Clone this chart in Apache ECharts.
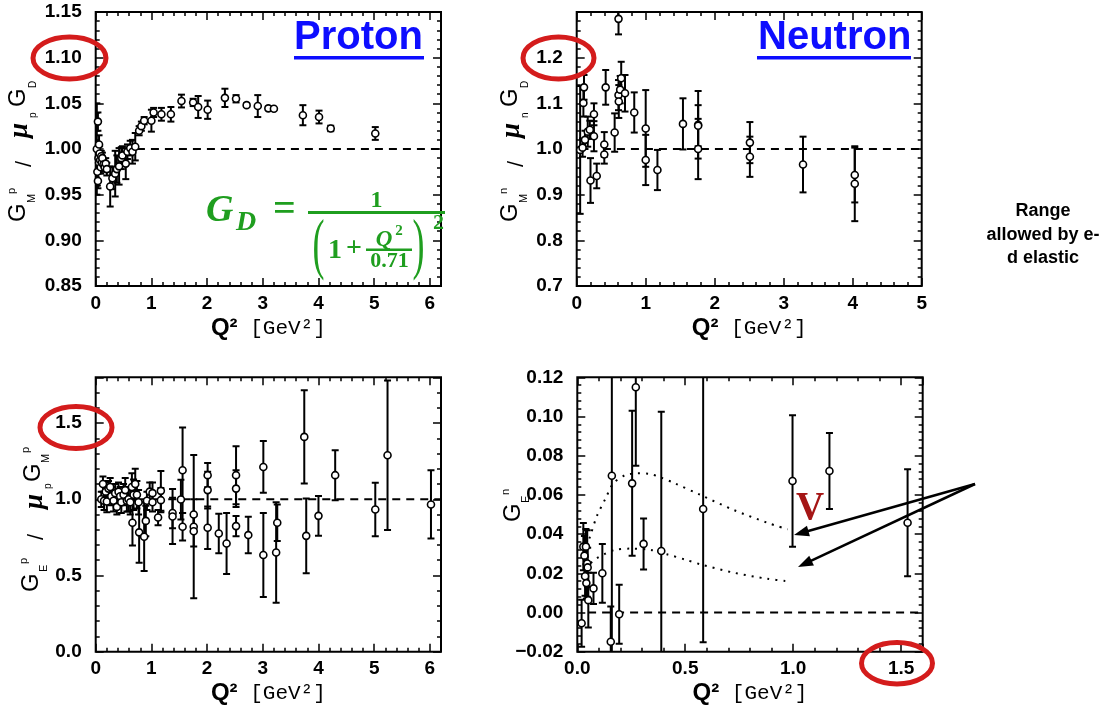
<!DOCTYPE html>
<html><head><meta charset="utf-8">
<script src="https://cdn.jsdelivr.net/npm/echarts/dist/echarts.min.js"></script>
<style>html,body{margin:0;padding:0;background:#fff}#c{width:1108px;height:708px}</style>
</head><body><div id="c"></div>
<script>
// ---------- DATA ----------
// Panel 1: G_M^p / mu_p G_D
const gmpX = [0.02,0.03,0.04,0.04,0.05,0.06,0.06,0.07,0.08,0.09,0.10,0.11,0.12,0.14,0.16,0.18,0.20,
  0.26,0.30,0.35,0.38,0.42,0.46,0.48,0.54,0.57,0.62,0.66,0.71,0.78,0.82,0.87,1.00,1.04,1.18,1.35,1.54,
  1.75,1.84,2.01,2.32,2.52,2.71,2.91,3.10,3.20,3.72,4.01,4.22,5.02];
const gmpY = [1.000,0.975,1.030,0.965,0.990,0.985,1.005,0.995,0.988,0.980,0.992,0.985,0.990,0.983,0.980,0.984,0.978,
  0.959,0.968,0.973,0.978,0.981,0.990,0.993,0.984,0.997,1.001,0.997,1.0025,1.020,1.025,1.031,1.031,1.040,1.038,1.038,1.0525,
  1.051,1.046,1.043,1.056,1.055,1.048,1.047,1.0445,1.044,1.037,1.035,1.0225,1.017];
const gmpErr = [0.05,0.015,0.01,0.008,0.012,0.01,0.01,0.008,0.006,0.007,0.006,0.005,0.006,0.006,0.005,0.006,0.007,
  0.022,0.012,0.025,0.015,0.02,0.012,0.01,0.017,0.008,0.008,0.013,0.015,0.005,0.005,0.004,0.012,0.005,0.007,0.008,0.007,
  0.004,0.012,0.01,0.01,0.004,0.002,0.012,0.002,0,0.011,0.007,0.003,0.007];
// Panel 2: G_M^n / mu_n G_D
const gmnX = [0.05,0.085,0.097,0.106,0.12,0.16,0.19,0.20,0.25,0.25,0.29,0.40,0.40,0.42,0.55,0.606,0.606,0.61,0.63,0.645,
  0.70,0.834,1.0,1.0,1.17,1.54,1.76,1.76,1.76,2.51,2.51,3.28,4.03,4.03];
const gmnY = [0.998,1.003,1.101,1.135,1.02,1.038,1.042,0.931,1.076,1.028,0.941,1.010,0.988,1.135,1.036,1.285,1.118,1.104,1.13,1.155,
  1.122,1.080,1.045,0.976,0.954,1.055,1.053,1.051,1.0,1.014,0.983,0.966,0.943,0.924];
const gmnErr = [0.14,0.02,0.03,0.027,0.02,0.033,0.02,0.049,0.024,0.033,0.027,0.027,0.02,0.038,0.042,0.034,0.033,0.036,0.03,0.036,
  0.04,0.044,0.084,0.055,0.044,0.056,0.074,0.045,0.066,0.045,0.044,0.061,0.06,0.082];
// Panel 3: G_E^p / mu_p G_M^p
const gepX = [0.10,0.13,0.15,0.18,0.20,0.23,0.26,0.28,0.32,0.35,0.38,0.41,0.44,0.46,0.50,0.53,0.56,0.59,0.62,0.65,
  0.68,0.71,0.74,0.77,0.66,0.78,0.87,0.90,0.92,0.97,1.02,1.02,1.12,1.17,1.17,1.38,1.38,1.53,1.56,1.56,
  1.76,1.76,1.76,2.01,2.01,2.01,2.21,2.35,2.52,2.52,2.52,2.74,3.01,3.01,3.24,3.26,3.745,3.78,4.0,4.3,5.02,5.24,6.02];
const gepY = [1.00,1.10,0.99,1.05,0.985,1.07,1.08,1.02,0.99,1.04,0.95,1.05,1.02,0.98,1.03,1.06,0.99,1.00,0.98,1.08,
  1.03,1.10,1.03,0.98,0.846,0.783,0.754,0.858,0.99,1.05,1.04,0.98,0.88,1.055,0.994,0.91,0.887,0.998,1.19,0.82,
  0.90,0.82,0.79,1.158,1.06,0.813,0.775,0.71,1.158,1.07,0.824,0.765,1.212,0.634,0.651,0.846,1.409,0.76,0.891,1.158,0.933,1.289,0.966];
const gepErr = [0.05,0.05,0.06,0.06,0.07,0.05,0.06,0.06,0.07,0.06,0.05,0.06,0.06,0.07,0.07,0.08,0.07,0.08,0.08,0.09,
  0.10,0.10,0.09,0.08,0.15,0.20,0.225,0.10,0.06,0.06,0.07,0.06,0.05,0.13,0.08,0.10,0.18,0.13,0.28,0.09,
  0.10,0.47,0.10,0.08,0.12,0.14,0.13,0.20,0.19,0.12,0.066,0.12,0.17,0.276,0.33,0.12,0.306,0.245,0.13,0.164,0.175,0.49,0.224];
// Panel 4: G_E^n
const genX = [0.02,0.028,0.033,0.036,0.04,0.042,0.046,0.048,0.051,0.075,0.116,0.155,0.16,0.194,0.254,0.271,0.307,0.389,0.583,0.997,1.168,1.53];
const genY = [-0.0055,0.0336,0.029,0.0185,0.0336,0.015,0.025,0.023,0.0063,0.0123,0.02,-0.0149,0.0698,-0.0009,0.0659,0.1149,0.035,0.0314,0.0528,0.0671,0.0722,0.0458];
const genErr = [0.012,0.012,0.01,0.01,0.009,0.008,0.017,0.01,0.014,0.008,0.015,0.018,0.09,0.015,0.037,0.04,0.013,0.071,0.068,0.0336,0.0194,0.0273];
const genUpX = [0.03,0.059,0.09,0.13,0.168,0.22,0.276,0.33,0.384,0.45,0.57,0.725,0.88,0.974];
const genUpY = [0.030,0.0387,0.049,0.058,0.066,0.070,0.071,0.0708,0.069,0.066,0.060,0.0523,0.0458,0.0424];
const genLoX = [0.04,0.06,0.09,0.13,0.175,0.245,0.338,0.415,0.5,0.57,0.725,0.88,0.974];
const genLoY = [0.022,0.025,0.0277,0.030,0.032,0.0326,0.032,0.0297,0.027,0.0246,0.0203,0.0172,0.016];
// dashed reference lines [xStart, xEnd] at given level
const refGmpX = [0.74, 6.2], refGmpY = 1;
const refGmnX = [0.38, 5], refGmnY = 1;
const refGepX = [0.8, 6.2], refGepY = 1;
const refGenX = [0.05, 1.6], refGenY = 0;

// ---------- HELPERS ----------
const SANS = "'Liberation Sans', Arial, Helvetica, sans-serif";
const SERIF = "'Liberation Serif', 'DejaVu Serif', 'Times New Roman', serif";
const MONO = "'Liberation Mono', 'DejaVu Sans Mono', monospace";
const xAxis = [], yAxis = [], series = [], grids = [];

function isMult(v, step){ const r = v/step; return Math.abs(r - Math.round(r)) < 1e-6; }
function baseAxis(gi, pos, min, max, interval, len, label, extra){
  return Object.assign({
    type:'value', gridIndex:gi, position:pos, min:min, max:max, interval:interval,
    axisLine:{show:false, onZero:false},
    axisTick:{show:true, inside:true, length:len, lineStyle:{color:'#000', width:1.5}},
    axisLabel: label || {show:false},
    splitLine:{show:false}, minorTick:{show:false}, minorSplitLine:{show:false},
    silent:true
  }, extra || {});
}
function panel(gi, box, xs, ys){
  grids.push({left:box[0], top:box[1], width:box[2], height:box[3], show:true, borderColor:'#000', borderWidth:2,
    backgroundColor:'transparent', containLabel:false, outerBoundsMode:'none'});
  const xi = xAxis.length, yi = yAxis.length;
  xAxis.push(baseAxis(gi,'bottom',xs.min,xs.max,xs.major,8,{
    show:true, color:'#000', fontSize:19, fontFamily:SANS, fontWeight:'bold', margin:8,
    formatter:(v)=> (isMult(v,xs.major) && v <= xs.labelMax + 1e-9) ? xs.fmt(v) : ''
  },{
    name:'{q|Q²}{m| [GeV²]}', nameLocation:'middle', nameGap:28,
    nameTextStyle:{color:'#000', rich:{
      q:{fontFamily:SANS, fontWeight:'bold', fontSize:24, color:'#000', lineHeight:28},
      m:{fontFamily:MONO, fontSize:21, color:'#000', lineHeight:28}}}
  }));
  xAxis.push(baseAxis(gi,'bottom',xs.min,xs.max,xs.minor,4,null));
  xAxis.push(baseAxis(gi,'top',xs.min,xs.max,xs.major,8,null));
  xAxis.push(baseAxis(gi,'top',xs.min,xs.max,xs.minor,4,null));
  yAxis.push(baseAxis(gi,'left',ys.min,ys.max,ys.major,8,{
    show:true, color:'#000', fontSize:19, fontFamily:SANS, fontWeight:'bold', margin:14,
    formatter:(v)=> (isMult(v,ys.major) && v <= ys.labelMax + 1e-9) ? ys.fmt(v) : ''
  }));
  yAxis.push(baseAxis(gi,'left',ys.min,ys.max,ys.minor,4,null));
  yAxis.push(baseAxis(gi,'right',ys.min,ys.max,ys.major,8,null));
  yAxis.push(baseAxis(gi,'right',ys.min,ys.max,ys.minor,4,null));
  return {xi:xi, yi:yi};
}
function addData(ax, X, Y, E, refX, refY){
  series.push({
    type:'custom', xAxisIndex:ax.xi, yAxisIndex:ax.yi, clip:true, silent:true, z:3,
    data: X.map((x,i)=>[x, Y[i], E[i]]),
    encode:{x:0, y:1},
    renderItem:function(params, api){
      const x = api.value(0), y = api.value(1), e = api.value(2);
      const hi = api.coord([x, y + e]), lo = api.coord([x, y - e]);
      const cx = hi[0], cw = 3.5;
      const st = {stroke:'#000', lineWidth:2};
      const ch = [{type:'line', shape:{x1:cx, y1:hi[1], x2:cx, y2:lo[1]}, style:st}];
      if (e > 0) {
        ch.push({type:'line', shape:{x1:cx-cw, y1:hi[1], x2:cx+cw, y2:hi[1]}, style:st});
        ch.push({type:'line', shape:{x1:cx-cw, y1:lo[1], x2:cx+cw, y2:lo[1]}, style:st});
      }
      return {type:'group', children:ch};
    }
  });
  series.push({
    type:'scatter', xAxisIndex:ax.xi, yAxisIndex:ax.yi, silent:true, z:4,
    symbol:'circle', symbolSize:7,
    itemStyle:{color:'#fff', borderColor:'#000', borderWidth:1.6, opacity:1},
    data: X.map((x,i)=>[x, Y[i]])
  });
  series.push({
    type:'line', xAxisIndex:ax.xi, yAxisIndex:ax.yi, silent:true, z:2, showSymbol:false, symbol:'none',
    lineStyle:{color:'#000', width:1.8, type:[8,6]},
    data: refX.map(x=>[x, refY])
  });
}
const f0 = v => String(Math.round(v));
const f1 = v => v.toFixed(1);
const f2 = v => (v < 0 ? '\u2212' + Math.abs(v).toFixed(2) : v.toFixed(2));

const a1 = panel(0, [95.7, 12, 345.3, 274], {min:0,max:6.2,major:1,minor:0.2,labelMax:6,fmt:f0},
                                             {min:0.85,max:1.15,major:0.05,minor:0.01,labelMax:1.15,fmt:f2});
const a2 = panel(1, [576.7, 12, 345, 274], {min:0,max:5,major:1,minor:0.2,labelMax:5,fmt:f0},
                                             {min:0.7,max:1.3,major:0.1,minor:0.02,labelMax:1.2,fmt:f1});
const a3 = panel(2, [95.7, 377.3, 345.3, 274.4], {min:0,max:6.2,major:1,minor:0.2,labelMax:6,fmt:f0},
                                             {min:0,max:1.8,major:0.5,minor:0.1,labelMax:1.5,fmt:f1});
const a4 = panel(3, [577.3, 377.3, 345.4, 274.4], {min:0,max:1.6,major:0.5,minor:0.1,labelMax:1.5,fmt:f1},
                                             {min:-0.02,max:0.12,major:0.02,minor:0.004,labelMax:0.12,fmt:f2});
addData(a1, gmpX, gmpY, gmpErr, refGmpX, refGmpY);
addData(a2, gmnX, gmnY, gmnErr, refGmnX, refGmnY);
addData(a3, gepX, gepY, gepErr, refGepX, refGepY);
addData(a4, genX, genY, genErr, refGenX, refGenY);
[[genUpX, genUpY],[genLoX, genLoY]].forEach(function(c){
  series.push({type:'line', xAxisIndex:a4.xi, yAxisIndex:a4.yi, silent:true, z:2, showSymbol:false, symbol:'none',
    smooth:0.3, lineStyle:{color:'#000', width:2, type:[2,6]},
    data:c[0].map((x,i)=>[x, c[1][i]])});
});

// ---------- GRAPHIC TEXT / ANNOTATIONS ----------
function yTitle(x0, y0, items){
  return {type:'group', x:x0, y:y0, rotation:Math.PI/2, silent:true, children: items.map(function(it){
    return {type:'text', x:it[1], y:it[2] - 0.35*it[3], style:{text:it[0], fontSize:it[3], fontFamily:it[4]||SANS,
      fontStyle:it[5]||'normal', fontWeight:it[6]||'normal', fill:'#000', textAlign:'left',
      textVerticalAlign:'middle', verticalAlign:'middle'}};
  })};
}
function txt(t, x, y, size, fam, style, weight, fill, align, sy){
  const o = {type:'text', x:x, y:y, silent:true, z:50, style:{text:t, fontSize:size, fontFamily:fam, fontStyle:style||'normal',
    fontWeight:weight||'normal', fill:fill||'#000', textAlign:align||'center', textVerticalAlign:'middle', verticalAlign:'middle'}};
  if (sy) { o.scaleY = sy; }
  return o;
}
function arrow(x1, y1, x2, y2){
  const dx = x2-x1, dy = y2-y1, L = Math.sqrt(dx*dx+dy*dy), ux = dx/L, uy = dy/L;
  const hl = 15, hw = 5.5, bx = x2 - ux*hl, by = y2 - uy*hl;
  return [
    {type:'line', silent:true, z:50, shape:{x1:x1, y1:y1, x2:bx+ux*2, y2:by+uy*2}, style:{stroke:'#000', lineWidth:2.5}},
    {type:'polygon', silent:true, z:50, shape:{points:[[x2,y2],[bx - uy*hw, by + ux*hw],[bx + uy*hw, by - ux*hw]]}, style:{fill:'#000'}}
  ];
}
function ellipse(cx, cy, rx, ry){
  return {type:'ellipse', silent:true, z:60, shape:{cx:cx, cy:cy, rx:rx, ry:ry}, style:{fill:null, stroke:'#d41c1c', lineWidth:5}};
}
const GREEN = '#1f9e1f', BLUE = '#0d0dff';
const graphic = [
  // y-axis titles
  yTitle(27, 222, [['G',0,0,24],['M',19,9,11],['p',28,-11,11],['/',55,6,22],['\u03bc',84,2,27,SERIF,'italic','bold'],
                   ['p',104,10,10],['G',115,0,24],['D',134,10,10]]),
  yTitle(519, 222, [['G',0,0,24],['M',19,9,11],['n',28,-11,11],['/',55,6,22],['\u03bc',84,2,27,SERIF,'italic','bold'],
                   ['n',104,10,10],['G',115,0,24],['D',134,10,10]]),
  yTitle(40, 592, [['G',0,0,24],['E',20,8,11],['p',28,-12,11],['/',52,5,22],['\u03bc',83,4,27,SERIF,'italic','bold'],
                   ['p',103,12,10],['G',110,2,24],['M',129,10,11],['p',139,-10,11]]),
  yTitle(522, 522, [['G',0,0,24],['E',19,8,11],['n',27,-12,11]]),
  // titles
  txt('Proton', 294, 37.5, 40, SANS, 'normal', 'bold', BLUE, 'left'),
  {type:'rect', silent:true, z:50, shape:{x:294, y:56, width:130, height:3.5}, style:{fill:BLUE}},
  txt('Neutron', 758, 37.5, 40, SANS, 'normal', 'bold', BLUE, 'left'),
  {type:'rect', silent:true, z:50, shape:{x:757, y:56, width:154, height:3.5}, style:{fill:BLUE}},
  // dipole formula
  txt('G', 206, 211, 38, SERIF, 'italic', 'bold', GREEN, 'left'),
  txt('D', 236, 223, 28, SERIF, 'italic', 'bold', GREEN, 'left'),
  txt('=', 284.5, 210.5, 40, SERIF, 'normal', 'bold', GREEN, 'center'),
  {type:'rect', silent:true, z:50, shape:{x:308, y:211, width:137, height:3}, style:{fill:GREEN}},
  txt('1', 376.5, 200.5, 24, SERIF, 'normal', 'bold', GREEN, 'center'),
  txt('(', 318.5, 248, 36, SERIF, 'normal', 'normal', GREEN, 'center', 1.9),
  txt('1', 335, 251, 28, SERIF, 'normal', 'bold', GREEN, 'center'),
  txt('+', 354, 249, 28, SERIF, 'normal', 'bold', GREEN, 'center'),
  txt('Q', 384, 240, 23, SERIF, 'italic', 'bold', GREEN, 'center'),
  txt('2', 399, 231.5, 15, SERIF, 'normal', 'bold', GREEN, 'center'),
  {type:'rect', silent:true, z:50, shape:{x:366, y:248.5, width:46, height:2.5}, style:{fill:GREEN}},
  txt('0.71', 389.5, 261, 22, SERIF, 'normal', 'bold', GREEN, 'center'),
  txt(')', 418.5, 248, 36, SERIF, 'normal', 'normal', GREEN, 'center', 1.9),
  txt('2', 438.5, 223.5, 22, SERIF, 'normal', 'bold', GREEN, 'center'),
  // side note
  {type:'text', x:1043, y:235, silent:true, z:50, style:{text:'Range\nallowed by e-\nd elastic', fontSize:18, fontFamily:SANS,
    fontWeight:'bold', fill:'#000', textAlign:'center', textVerticalAlign:'middle', verticalAlign:'middle', lineHeight:23.5}},
  // V mark
  txt('V', 810, 509, 39, SERIF, 'normal', 'bold', '#a51616', 'center'),
  // red ellipses
  ellipse(69.5, 58, 36.5, 21), ellipse(558.5, 58, 35.5, 21), ellipse(76, 427.5, 36, 21), ellipse(897, 663.3, 35.5, 20.7)
].concat(arrow(975, 484, 794, 535), arrow(975, 484, 798, 567));

const chart = echarts.init(document.getElementById('c'), null, {renderer:'canvas'});
chart.setOption({
  animation:false, backgroundColor:'#fff',
  grid:grids, xAxis:xAxis, yAxis:yAxis, series:series, graphic:graphic
});
</script></body></html>
